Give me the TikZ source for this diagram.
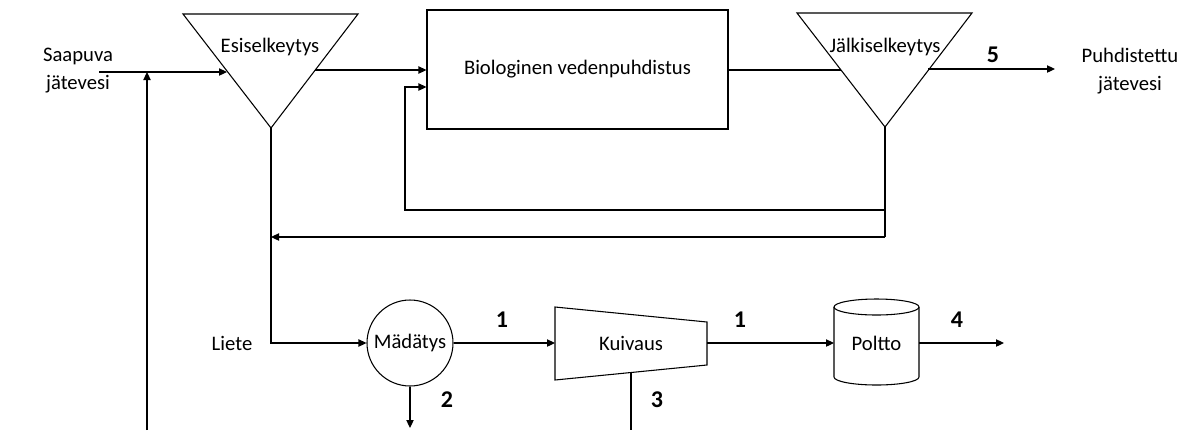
\documentclass[tikz,border=0pt]{standalone}
\usepackage{fontspec}
\setmainfont{Carlito}
\usetikzlibrary{arrows.meta}
\begin{document}
\begin{tikzpicture}[x=0.75pt,y=-0.75pt,line width=0.8pt,
	arr/.style={-{Triangle[length=6pt,width=5.5pt]}},
	lbl/.style={font=\fontsize{15.5}{21}\selectfont,align=center,inner sep=0pt},
	num/.style={font=\fontsize{18}{21}\selectfont\bfseries,inner sep=0pt}]
	\useasboundingbox (0,0) rectangle (1188,430);
	\draw (183,14) -- (358,14) -- (271,128) -- cycle;
	\draw (797,13) -- (972,13) -- (885,127) -- cycle;
	\draw (555,307) -- (707,322) -- (707,365) -- (555,380) -- cycle;
	\draw (834,307) -- (834,377) arc[start angle=180,end angle=0,x radius=42.5,y radius=8] -- (919,307);
	\draw (876.5,307) ellipse[x radius=42.5,y radius=8];
	\node[lbl] (in) at (78,71) {Saapuva\\jätevesi};
	\node[lbl] (out) at (1130,71) {Puhdistettu\\jätevesi};
	\node[lbl] (esi) at (270,47) {Esiselkeytys};
	\node[lbl] (jal) at (885,47) {Jälkiselkeytys};
	\node[lbl,draw,minimum width=225.75pt,minimum height=89.25pt] (bio) at (577.5,69.5) {Biologinen vedenpuhdistus};
	\node[lbl,draw,circle,minimum size=64.5pt] (mad) at (410,343) {Mädätys};
	\node[lbl] (kui) at (631,343) {Kuivaus};
	\node[lbl] (pol) at (876.5,343) {Poltto};
	\node[lbl] (liete) at (232,343) {Liete};
	\node[num] (n1a) at (502,320) {1};
	\node[num] (n1b) at (740,320) {1};
	\node[num] (n4) at (957,320) {4};
	\node[num] (n2) at (447,400) {2};
	\node[num] (n3) at (657,400) {3};
	\node[num] (n5) at (993,55) {5};
	\coordinate (inS) at (99,72);
	\coordinate (join) at (147,72);
	\coordinate (joinB) at (147,430);
	\coordinate (esiL) at (227,72);
	\coordinate (esiR) at (315,70);
	\coordinate (esiA) at (271,128);
	\coordinate (jalL) at (841,70);
	\coordinate (jalR) at (928,69);
	\coordinate (jalA) at (885,127);
	\coordinate (rec) at (885,210);
	\coordinate (ret) at (885,237);
	\coordinate (recUp) at (405,87);
	\coordinate (outE) at (1055,69);
	\coordinate (kuiL) at (555,343);
	\coordinate (kuiR) at (707,343);
	\coordinate (kuiB) at (631,372.5);
	\coordinate (out3) at (631,430);
	\coordinate (out2) at (410,428);
	\coordinate (polL) at (834,343);
	\coordinate (polR) at (919,343);
	\coordinate (out4) at (1004,343);
	\draw[arr] (inS) -- (esiL);
	\draw[arr] (joinB) -- (join);
	\draw[arr] (esiR) -- (esiR -| bio.west);
	\draw (bio.east |- jalL) -- (jalL);
	\draw[arr] (jalR) -- (outE);
	\draw (jalA) -- (ret);
	\draw[arr] (ret) -- (esiA |- ret);
	\draw[arr] (rec) -| (recUp) -- (recUp -| bio.west);
	\draw[arr] (esiA) |- (mad.west);
	\draw[arr] (mad.south) -- (out2);
	\draw[arr] (mad.east) -- (kuiL);
	\draw (kuiB) -- (out3);
	\draw[arr] (kuiR) -- (polL);
	\draw[arr] (polR) -- (out4);
\end{tikzpicture}
\end{document}
